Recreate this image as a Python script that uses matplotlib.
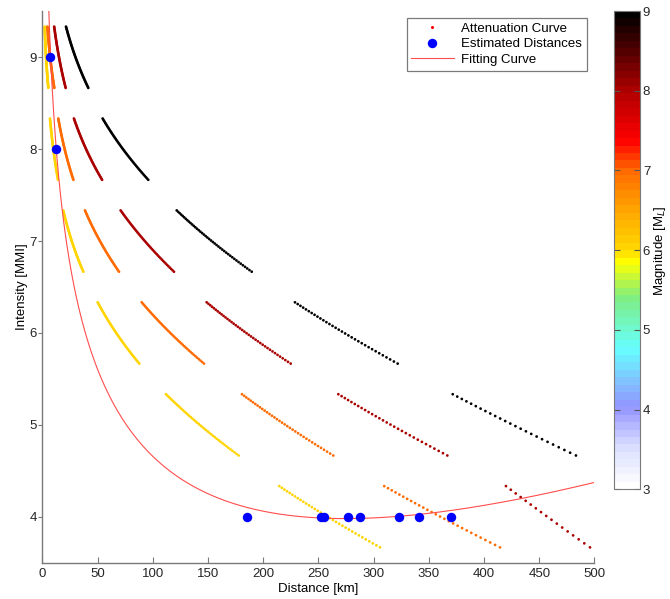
import numpy as np
import matplotlib
matplotlib.use("Agg")
import matplotlib.pyplot as plt
from matplotlib.colors import LinearSegmentedColormap, Normalize
from matplotlib.lines import Line2D

plt.rcParams['font.family'] = ['Liberation Sans', 'DejaVu Sans']
plt.rcParams['font.size'] = 9.5

# Attenuation segments: each spans intensity level +1/3 .. level -1/3
seg_level = [9, 9, 9, 9,
             8, 8, 8, 8,
             7, 7, 7, 7,
             6, 6, 6, 6,
             5, 5, 5, 5,
             4, 4, 4]
seg_mag = [6, 7, 8, 9,
           6, 7, 8, 9,
           6, 7, 8, 9,
           6, 7, 8, 9,
           6, 7, 8, 9,
           6, 7, 8]
seg_r_start = [2.0, 4.5, 10.6, 21.3,
               6.8, 14.3, 28.5, 54.5,
               18.8, 38.5, 70.8, 121.6,
               50.0, 89.9, 148.7, 228.7,
               111.9, 180.7, 268.0, 371.6,
               214.5, 309.6, 419.8]
seg_r_end = [5.3, 10.7, 21.0, 41.5,
             14.1, 28.0, 54.0, 95.8,
             37.0, 69.3, 119.1, 189.5,
             87.7, 146.3, 224.8, 321.7,
             177.7, 263.4, 366.7, 483.2,
             305.7, 414.4, 495.9]

# Estimated distances
est_dist = [7.2, 12.5, 185.0, 252.0, 255.0, 276.5, 287.3, 322.6, 341.3, 370.2]
est_int = [9, 8, 4, 4, 4, 4, 4, 4, 4, 4]

# Points along the fitting curve
fit_r = [6.0, 7.2, 12.5, 17.0, 19.6, 43.0, 55.0, 63.6, 91.3, 100.0,
         142.7, 185.0, 264.0, 305.7, 342.0, 396.0, 441.6, 499.0]
fit_i = [9.5, 9.0, 8.0, 7.43, 7.0, 5.99, 5.48, 5.26, 4.76, 4.67,
         4.27, 4.07, 3.97, 3.975, 4.02, 4.11, 4.23, 4.39]

# Magnitude colour scale
cmap_nodes = [(3.0, (1.0, 1.0, 1.0)),
              (3.5, (0.85, 0.87, 1.0)),
              (4.0, (0.58, 0.58, 1.0)),
              (4.75, (0.40, 1.0, 1.0)),
              (5.4, (0.50, 0.93, 0.50)),
              (5.85, (1.0, 1.0, 0.0)),
              (6.0, (1.0, 0.85, 0.0)),
              (6.5, (1.0, 0.65, 0.0)),
              (7.0, (1.0, 0.42, 0.0)),
              (7.4, (1.0, 0.0, 0.0)),
              (8.0, (0.70, 0.0, 0.0)),
              (9.0, (0.0, 0.0, 0.0))]
mag_cmap = LinearSegmentedColormap.from_list(
    'magnitude', [((m - 3.0) / 6.0, c) for m, c in cmap_nodes], N=64)
mag_norm = Normalize(vmin=3, vmax=9)

# Build the dotted attenuation segments
k_anel = 0.0042
log_step = 0.011
pts_r, pts_i, pts_m = [], [], []
for lev, mag, r0, r1 in zip(seg_level, seg_mag, seg_r_start, seg_r_end):
    n = int(np.ceil(np.log(r1 / r0) / log_step)) + 1
    r = np.geomspace(r0, r1, n)
    g = np.log(r) + k_anel * r
    t = (g - g[0]) / (g[-1] - g[0])
    pts_r.append(r)
    pts_i.append(lev + 1 / 3 - t * 2 / 3)
    pts_m.append(np.full(n, mag, dtype=float))
pts_r = np.concatenate(pts_r)
pts_i = np.concatenate(pts_i)
pts_m = np.concatenate(pts_m)

# Least-squares fit of the fitting curve
fr = np.asarray(fit_r)
basis = np.column_stack([np.ones_like(fr), np.log(fr), fr, np.log(fr) ** 2])
coef, *_ = np.linalg.lstsq(basis, np.asarray(fit_i), rcond=None)
rr = np.linspace(3.0, 500.0, 2000)
ii = coef[0] + coef[1] * np.log(rr) + coef[2] * rr + coef[3] * np.log(rr) ** 2

fig = plt.figure(figsize=(6.70, 5.99), dpi=100)
ax = fig.add_axes([0.0634, 0.0606, 0.8239, 0.9205])

sc = ax.scatter(pts_r, pts_i, c=pts_m, cmap=mag_cmap, norm=mag_norm,
                s=3.8, linewidths=0, zorder=2)
ax.plot(rr, ii, color=(1.0, 0.3, 0.3), lw=0.8, zorder=3)
ax.plot(est_dist, est_int, 'o', color=(0, 0, 1), markersize=6.8,
        markeredgewidth=0, zorder=4)

ax.set_xlim(0, 500)
ax.set_ylim(3.5, 9.5)
ax.set_xticks(np.arange(0, 501, 50))
ax.set_yticks(np.arange(4, 10, 1))
ax.set_xlabel('Distance [km]', labelpad=2)
ax.set_ylabel('Intensity [MMI]', labelpad=1)

for side in ('top', 'right'):
    ax.spines[side].set_visible(False)
for side in ('left', 'bottom'):
    ax.spines[side].set_color('#7a7a7a')
    ax.spines[side].set_linewidth(1.0)
ax.tick_params(axis='x', direction='in', length=4, color='#7a7a7a',
               labelcolor='#262626', pad=4)
ax.tick_params(axis='y', direction='out', length=3, color='#7a7a7a',
               labelcolor='#262626', pad=1)

handles = [
    Line2D([], [], linestyle='none', marker='o', markersize=2.2,
           markeredgewidth=0, color=(1, 0, 0)),
    Line2D([], [], linestyle='none', marker='o', markersize=6.8,
           markeredgewidth=0, color=(0, 0, 1)),
    Line2D([], [], color=(1.0, 0.3, 0.3), lw=0.8),
]
leg = ax.legend(handles, ['Attenuation Curve', 'Estimated Distances', 'Fitting Curve'],
                loc='upper right', bbox_to_anchor=(0.9864, 0.9878),
                fancybox=False, framealpha=1, edgecolor='#7a7a7a',
                borderpad=0.35, labelspacing=0.25, handlelength=3.2,
                handletextpad=0.6, borderaxespad=0)
leg.get_frame().set_linewidth(0.9)

cax = fig.add_axes([0.9157, 0.1831, 0.0396, 0.7985])
cb = fig.colorbar(sc, cax=cax, ticks=range(3, 10))
cb.outline.set_edgecolor('#7a7a7a')
cb.ax.tick_params(direction='in', length=4, left=True, right=True,
                  color='#555555', labelcolor='#262626', pad=2)
cb.set_label('Magnitude [M$_L$]', labelpad=1)

fig.savefig('out.png', dpi=100)
